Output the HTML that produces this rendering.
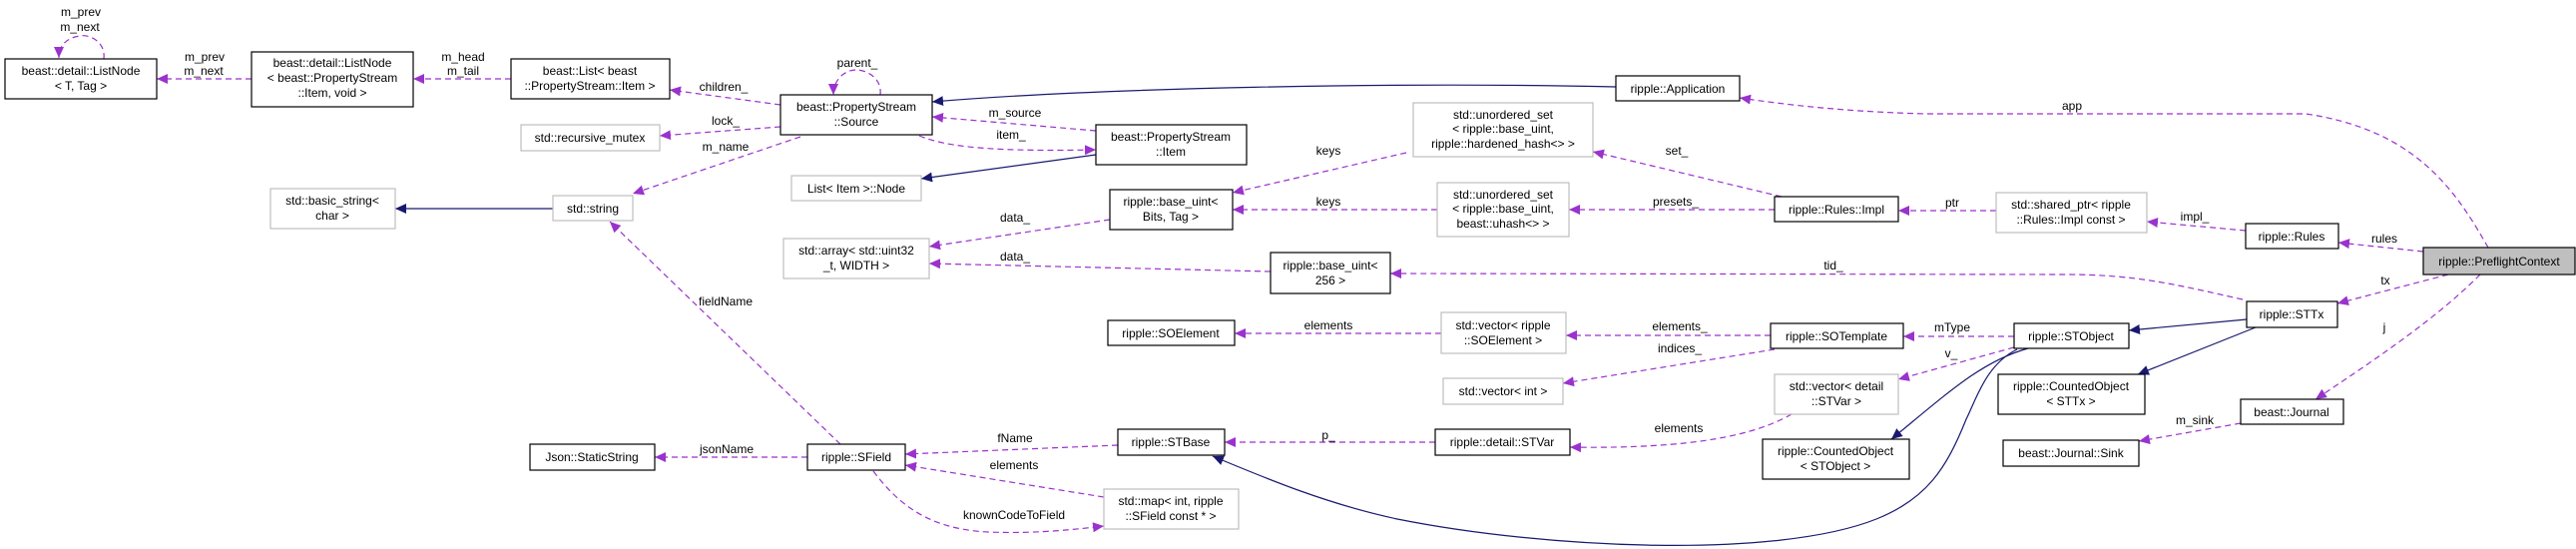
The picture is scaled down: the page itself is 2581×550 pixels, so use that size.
<!DOCTYPE html>
<html><head><meta charset="utf-8"><style>
html,body{margin:0;padding:0;background:#fff;}
svg{display:block;}
text{font-family:"Liberation Sans",sans-serif;font-size:12px;fill:#000;text-anchor:middle;}
.b{fill:#fff;stroke:#000;stroke-width:1.2;}
.g{fill:#fff;stroke:#bfbfbf;stroke-width:1.2;}
.p{fill:none;stroke:#9a32cd;stroke-width:1.2;stroke-dasharray:6,4;marker-end:url(#ap);}
.n{fill:none;stroke:#191970;stroke-width:1.2;marker-end:url(#an);}
</style></head><body>
<svg width="2581" height="550" viewBox="0 0 2581 550" xmlns="http://www.w3.org/2000/svg">
<defs>
<marker id="ap" markerUnits="userSpaceOnUse" markerWidth="12" markerHeight="10" refX="11" refY="5" orient="auto"><path d="M0,0 L11,5 L0,10 z" fill="#9a32cd"/></marker>
<marker id="an" markerUnits="userSpaceOnUse" markerWidth="12" markerHeight="10" refX="11" refY="5" orient="auto"><path d="M0,0 L11,5 L0,10 z" fill="#191970"/></marker>
</defs>

<!-- edges -->
<path class="p" d="M104,59 C106,42 90,34 80,36 C66,38 59,46 59,58"/>
<path class="p" d="M252,79 L157,79"/>
<path class="p" d="M512,79 L414,79"/>
<path class="p" d="M782,105 L671,90"/>
<path class="p" d="M782,127 L661,136"/>
<path class="p" d="M802,137 L634,194"/>
<path class="p" d="M882,95 C884,78 868,70 858,70 C846,70 835,80 835,95"/>
<path class="p" d="M1098,131 L934,117"/>
<path class="p" d="M921,136 C950,148 1000,152 1098,150"/>
<path class="n" d="M1098,155 L923,179"/>
<path class="n" d="M1619,87 C1400,82 1100,88 934,102"/>
<path class="p" d="M1112,220 L931,247"/>
<path class="p" d="M1273,272 L931,264"/>
<path class="p" d="M1409,153 L1235,193"/>
<path class="p" d="M1440,210 L1235,210"/>
<path class="p" d="M1785,197 L1596,152"/>
<path class="p" d="M1778,210 L1572,210"/>
<path class="p" d="M2000,211 L1902,211"/>
<path class="p" d="M2250,231 L2151,222"/>
<path class="p" d="M2428,252 L2343,243"/>
<path class="p" d="M2493,248 C2460,190 2420,130 2310,114 L1930,114 C1850,112 1790,105 1743,98"/>
<path class="p" d="M2453,275 L2342,304"/>
<path class="p" d="M2247,300 C2180,285 2140,275 2070,275 L1393,274"/>
<path class="p" d="M2485,275 C2440,320 2380,360 2320,400"/>
<path class="p" d="M2245,424 L2143,442"/>
<path class="n" d="M2251,320 L2133,331"/>
<path class="n" d="M2260,328 L2142,375"/>
<path class="p" d="M2018,337 L1907,337"/>
<path class="p" d="M2018,348 L1902,380"/>
<path class="p" d="M1774,336 L1569,336"/>
<path class="p" d="M1444,334 L1237,334"/>
<path class="p" d="M1778,350 L1566,384"/>
<path class="p" d="M1795,415 C1760,435 1700,450 1573,448"/>
<path class="n" d="M2032,349 C1985,362 1950,395 1895,440"/>
<path class="n" d="M2021,350 C1990,365 1980,400 1970,420 C1950,470 1930,500 1880,520 C1780,560 1550,550 1400,520 C1330,505 1270,480 1215,457"/>
<path class="p" d="M1438,443 L1227,443"/>
<path class="p" d="M1120,446 L907,455"/>
<path class="p" d="M1106,498 L907,466"/>
<path class="p" d="M875,472 C900,505 930,530 990,533 C1040,535 1080,530 1106,527"/>
<path class="p" d="M809,458 L656,458"/>
<path class="p" d="M842,445 L611,222"/>
<path class="n" d="M554,209 L396,209"/>

<!-- edge labels -->
<text x="81" y="16">m_prev</text><text x="80" y="31">m_next</text>
<text x="205" y="61">m_prev</text><text x="204" y="75">m_next</text>
<text x="464" y="61">m_head</text><text x="464" y="75">m_tail</text>
<text x="859" y="67">parent_</text>
<text x="725" y="91">children_</text>
<text x="727" y="125">lock_</text>
<text x="727" y="151">m_name</text>
<text x="1017" y="117">m_source</text>
<text x="1013" y="139">item_</text>
<text x="1017" y="222">data_</text>
<text x="1017" y="261">data_</text>
<text x="1331" y="155">keys</text>
<text x="1331" y="206">keys</text>
<text x="1680" y="155">set_</text>
<text x="1679" y="206">presets_</text>
<text x="1837" y="270">tid_</text>
<text x="2076" y="110">app</text>
<text x="1956" y="207">ptr</text>
<text x="2199" y="221">impl_</text>
<text x="2389" y="243">rules</text>
<text x="2390" y="285">tx</text>
<text x="2389" y="332">j</text>
<text x="2199" y="425">m_sink</text>
<text x="1956" y="332">mType</text>
<text x="1955" y="358">v_</text>
<text x="1331" y="330">elements</text>
<text x="1683" y="331">elements_</text>
<text x="1683" y="353">indices_</text>
<text x="1682" y="433">elements</text>
<text x="1331" y="440">p_</text>
<text x="727" y="306">fieldName</text>
<text x="728" y="454">jsonName</text>
<text x="1017" y="443">fName</text>
<text x="1016" y="470">elements</text>
<text x="1016" y="520">knownCodeToField</text>

<!-- nodes -->
<rect class="b" x="5" y="59" width="152" height="40"/>
<text x="81" y="75">beast::detail::ListNode</text><text x="81" y="90">&lt; T, Tag &gt;</text>

<rect class="b" x="252" y="52" width="162" height="55"/>
<text x="333" y="67">beast::detail::ListNode</text><text x="333" y="82">&lt; beast::PropertyStream</text><text x="333" y="97">::Item, void &gt;</text>

<rect class="b" x="512" y="59" width="159" height="40"/>
<text x="591" y="75">beast::List&lt; beast</text><text x="591" y="90">::PropertyStream::Item &gt;</text>

<rect class="g" x="522" y="125" width="139" height="26"/>
<text x="591" y="142">std::recursive_mutex</text>

<rect class="g" x="271" y="189" width="125" height="40"/>
<text x="333" y="205">std::basic_string&lt;</text><text x="333" y="220">char &gt;</text>

<rect class="g" x="554" y="196" width="80" height="25"/>
<text x="594" y="213">std::string</text>

<rect class="b" x="531" y="445" width="125" height="26"/>
<text x="593" y="462">Json::StaticString</text>

<rect class="b" x="782" y="95" width="152" height="40"/>
<text x="858" y="111">beast::PropertyStream</text><text x="858" y="126">::Source</text>

<rect class="b" x="1098" y="125" width="151" height="40"/>
<text x="1173" y="141">beast::PropertyStream</text><text x="1173" y="156">::Item</text>

<rect class="g" x="793" y="176" width="130" height="25"/>
<text x="858" y="193">List&lt; Item &gt;::Node</text>

<rect class="b" x="1112" y="190" width="123" height="40"/>
<text x="1173" y="206">ripple::base_uint&lt;</text><text x="1173" y="221">Bits, Tag &gt;</text>

<rect class="g" x="785" y="239" width="146" height="40"/>
<text x="858" y="255">std::array&lt; std::uint32</text><text x="858" y="270">_t, WIDTH &gt;</text>

<rect class="b" x="1273" y="253" width="120" height="41"/>
<text x="1333" y="270">ripple::base_uint&lt;</text><text x="1333" y="285">256 &gt;</text>

<rect class="b" x="1619" y="76" width="124" height="25"/>
<text x="1681" y="93">ripple::Application</text>

<rect class="g" x="1416" y="103" width="180" height="54"/>
<text x="1506" y="119">std::unordered_set</text><text x="1506" y="133">&lt; ripple::base_uint,</text><text x="1506" y="148">ripple::hardened_hash&lt;&gt; &gt;</text>

<rect class="g" x="1440" y="183" width="132" height="54"/>
<text x="1506" y="199">std::unordered_set</text><text x="1506" y="213">&lt; ripple::base_uint,</text><text x="1506" y="228">beast::uhash&lt;&gt; &gt;</text>

<rect class="b" x="1778" y="197" width="124" height="25"/>
<text x="1840" y="214">ripple::Rules::Impl</text>

<rect class="g" x="2000" y="193" width="151" height="40"/>
<text x="2075" y="209">std::shared_ptr&lt; ripple</text><text x="2075" y="224">::Rules::Impl const &gt;</text>

<rect class="b" x="2250" y="224" width="93" height="25"/>
<text x="2296" y="241">ripple::Rules</text>

<rect x="2428" y="248" width="152" height="27" fill="#bfbfbf" stroke="#000" stroke-width="1.2"/>
<text x="2504" y="266">ripple::PreflightContext</text>

<rect class="b" x="2251" y="302" width="91" height="26"/>
<text x="2296" y="319">ripple::STTx</text>

<rect class="b" x="2018" y="324" width="115" height="25"/>
<text x="2075" y="341">ripple::STObject</text>

<rect class="b" x="2002" y="375" width="147" height="40"/>
<text x="2075" y="391">ripple::CountedObject</text><text x="2075" y="406">&lt; STTx &gt;</text>

<rect class="b" x="2245" y="400" width="103" height="25"/>
<text x="2296" y="417">beast::Journal</text>

<rect class="b" x="2007" y="441" width="136" height="26"/>
<text x="2075" y="458">beast::Journal::Sink</text>

<rect class="b" x="1110" y="321" width="127" height="25"/>
<text x="1173" y="338">ripple::SOElement</text>

<rect class="g" x="1444" y="313" width="125" height="41"/>
<text x="1506" y="330">std::vector&lt; ripple</text><text x="1506" y="345">::SOElement &gt;</text>

<rect class="b" x="1774" y="324" width="133" height="25"/>
<text x="1840" y="341">ripple::SOTemplate</text>

<rect class="g" x="1446" y="379" width="120" height="26"/>
<text x="1506" y="396">std::vector&lt; int &gt;</text>

<rect class="g" x="1778" y="375" width="124" height="40"/>
<text x="1840" y="391">std::vector&lt; detail</text><text x="1840" y="406">::STVar &gt;</text>

<rect class="b" x="1438" y="430" width="135" height="26"/>
<text x="1505" y="447">ripple::detail::STVar</text>

<rect class="b" x="1766" y="440" width="147" height="40"/>
<text x="1839" y="456">ripple::CountedObject</text><text x="1839" y="471">&lt; STObject &gt;</text>

<rect class="b" x="1120" y="430" width="107" height="26"/>
<text x="1173" y="447">ripple::STBase</text>

<rect class="b" x="809" y="445" width="98" height="26"/>
<text x="858" y="462">ripple::SField</text>

<rect class="g" x="1106" y="490" width="135" height="40"/>
<text x="1173" y="506">std::map&lt; int, ripple</text><text x="1173" y="521">::SField const * &gt;</text>
</svg>
</body></html>
